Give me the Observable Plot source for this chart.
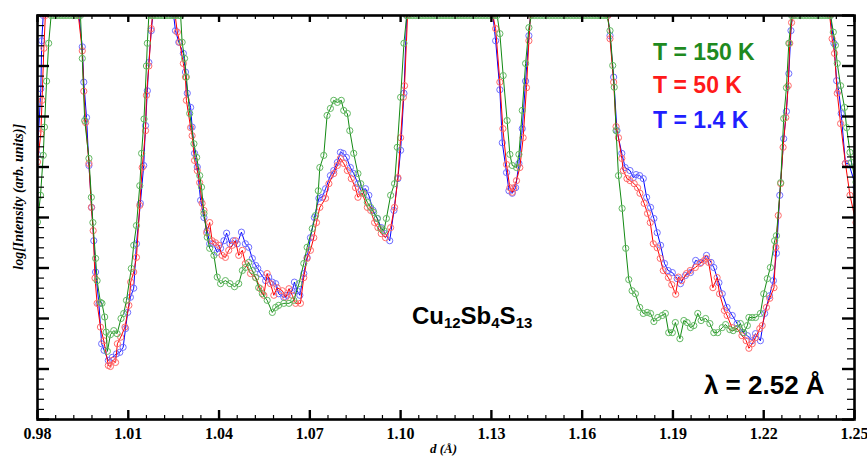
<!DOCTYPE html>
<html><head><meta charset="utf-8">
<script src="https://cdn.jsdelivr.net/npm/d3@7"></script>
<script src="https://cdn.jsdelivr.net/npm/@observablehq/plot@0.6"></script>
<style>html,body{margin:0;padding:0;background:#fff;} svg{display:block}</style>
</head><body><div id="chart"></div>
<script>
// ---- data (d in Å, log intensity in arbitrary units; 8 = clipped at top of frame) ----
const xTickValues = [0.98, 1.01, 1.04, 1.07, 1.10, 1.13, 1.16, 1.19, 1.22, 1.25];
const yTickValues = [0, 1, 2, 3, 4, 5, 6, 7, 8];
const seriesNames = ["T = 150 K", "T = 50 K", "T = 1.4 K"];
const formulaParts = [["Cu", false], ["12", true], ["Sb", false], ["4", true], ["S", false], ["13", true]];
const wavelengthLabel = "λ = 2.52 Å";
const xLabel = "d (Å)";
const yLabel = "log[Intensity (arb. units)]";

const green150K = [
[0.9800,3.91],[0.9810,4.44],[0.9819,5.23],[0.9823,5.79],[0.9830,6.70],[0.9837,7.45],
[0.9845,8],[0.9855,8],[0.9865,8],[0.9875,8],[0.9885,8],[0.9895,8],[0.9905,8],[0.9915,8],[0.9925,8],[0.9935,8],[0.9942,8],
[0.9948,7.15],[0.9956,5.92],[0.9970,5.17],[0.9978,4.40],[0.9983,3.90],[0.9992,3.19],[0.9997,2.75],[1.0008,2.32],[1.0013,2.30],
[1.0022,2.03],[1.0027,1.73],[1.0031,1.35],[1.0041,1.68],[1.0052,1.76],[1.0063,1.70],[1.0076,2.00],[1.0085,2.10],[1.0094,2.36],
[1.0110,2.99],[1.0118,3.45],[1.0127,3.84],[1.0138,4.63],[1.0144,5.27],[1.0152,5.95],[1.0160,7.00],[1.0163,7.45],
[1.0168,8],[1.0178,8],[1.0188,8],[1.0198,8],[1.0208,8],[1.0218,8],[1.0228,8],[1.0238,8],[1.0248,8],[1.0258,8],[1.0268,8],[1.0273,8],
[1.0278,7.47],[1.0286,7.15],[1.0292,6.78],[1.0303,6.06],[1.0317,5.46],[1.0326,5.19],[1.0336,4.83],[1.0342,4.60],[1.0350,4.08],
[1.0361,3.61],[1.0369,3.39],[1.0383,3.25],[1.0394,2.82],[1.0405,2.69],[1.0421,2.75],[1.0436,2.69],[1.0451,2.63],[1.0465,2.69],
[1.0477,2.95],[1.0487,3.01],[1.0498,3.11],[1.0510,2.95],[1.0521,2.81],[1.0531,2.61],[1.0543,2.49],[1.0559,2.36],[1.0576,2.12],
[1.0587,2.22],[1.0597,2.26],[1.0614,2.30],[1.0631,2.30],[1.0647,2.36],[1.0664,2.69],[1.0680,3.09],[1.0691,3.41],[1.0708,3.78],
[1.0719,4.04],[1.0728,4.53],[1.0733,4.99],[1.0746,5.23],[1.0757,6.02],[1.0768,6.16],[1.0779,6.32],[1.0791,6.28],[1.0804,6.32],
[1.0812,6.12],[1.0824,6.06],[1.0832,5.72],[1.0845,5.27],[1.0859,4.87],[1.0868,4.67],[1.0878,4.48],[1.0890,4.30],[1.0901,4.20],
[1.0911,4.10],[1.0923,3.98],[1.0934,3.78],[1.0945,3.74],[1.0953,3.98],[1.0967,4.44],[1.0980,4.67],[1.0989,5.39],[1.1000,6.38],[1.1011,7.45],
[1.1020,8],[1.1030,8],[1.1040,8],[1.1050,8],[1.1060,8],[1.1070,8],[1.1080,8],[1.1090,8],[1.1100,8],[1.1110,8],[1.1120,8],[1.1130,8],
[1.1140,8],[1.1150,8],[1.1160,8],[1.1170,8],[1.1180,8],[1.1190,8],[1.1200,8],[1.1210,8],[1.1220,8],[1.1230,8],[1.1240,8],[1.1250,8],
[1.1260,8],[1.1270,8],[1.1280,8],[1.1290,8],[1.1300,8],[1.1310,8],[1.1319,8],
[1.1328,7.64],[1.1339,6.81],[1.1352,5.92],[1.1361,5.25],[1.1369,5.03],[1.1383,4.99],[1.1391,5.25],[1.1402,6.12],[1.1413,7.05],[1.1424,7.76],
[1.1432,8],[1.1442,8],[1.1452,8],[1.1462,8],[1.1472,8],[1.1482,8],[1.1492,8],[1.1502,8],[1.1512,8],[1.1522,8],[1.1532,8],[1.1542,8],
[1.1552,8],[1.1562,8],[1.1572,8],[1.1582,8],[1.1592,8],[1.1602,8],[1.1612,8],[1.1622,8],[1.1632,8],[1.1642,8],[1.1652,8],[1.1662,8],
[1.1672,8],[1.1682,8],
[1.1692,7.70],[1.1701,7.01],[1.1706,6.58],[1.1712,5.72],[1.1720,4.83],[1.1732,4.18],[1.1744,3.39],[1.1754,2.77],[1.1765,2.55],
[1.1776,2.49],[1.1790,2.22],[1.1802,2.10],[1.1815,2.12],[1.1826,2.10],[1.1837,1.94],[1.1850,2.02],[1.1865,2.06],[1.1875,2.10],
[1.1886,1.72],[1.1898,1.72],[1.1908,1.92],[1.1923,1.60],[1.1936,1.96],[1.1947,1.92],[1.1958,1.82],[1.1969,1.86],[1.1982,2.10],
[1.1993,1.96],[1.2008,2.00],[1.2022,1.90],[1.2035,1.72],[1.2048,1.72],[1.2063,1.82],[1.2074,1.88],[1.2088,1.78],[1.2099,1.76],
[1.2112,1.80],[1.2123,1.90],[1.2134,1.72],[1.2146,1.86],[1.2151,2.02],[1.2162,2.02],[1.2173,2.02],[1.2189,2.10],[1.2200,2.49],
[1.2212,2.79],[1.2222,3.01],[1.2236,3.54],[1.2242,3.64],[1.2256,4.69],[1.2266,5.96],[1.2275,6.57],[1.2283,7.45],
[1.2292,8],[1.2302,8],[1.2312,8],[1.2322,8],[1.2332,8],[1.2342,8],[1.2352,8],[1.2362,8],[1.2372,8],[1.2382,8],[1.2392,8],[1.2402,8],[1.2412,8],[1.2421,8],
[1.2430,7.67],[1.2437,7.41],[1.2443,7.05],[1.2454,6.61],[1.2467,6.18],[1.2474,5.78],[1.2485,5.29],[1.2490,5.09],[1.2505,4.70]
];

const red50K = [
[0.9800,5.10],[0.9811,5.66],[0.9815,6.32],[0.9821,7.35],[0.9826,8],[0.9935,8],
[0.9948,7.30],[0.9953,6.50],[0.9959,5.88],[0.9970,5.07],[0.9978,4.20],[0.9984,3.74],[0.9990,2.80],[0.9997,2.30],[1.0008,1.83],
[1.0019,1.56],[1.0034,1.07],[1.0041,1.05],[1.0048,1.17],[1.0058,1.13],[1.0064,1.50],[1.0075,1.63],[1.0089,1.83],[1.0102,2.26],
[1.0108,2.72],[1.0118,2.92],[1.0127,3.21],[1.0138,4.24],[1.0146,4.99],[1.0157,5.72],[1.0160,6.42],[1.0168,7.00],[1.0176,7.74],
[1.0180,8],[1.0255,8],
[1.0262,7.67],[1.0270,7.47],[1.0282,7.05],[1.0289,6.78],[1.0292,6.32],[1.0306,5.78],[1.0311,5.62],[1.0319,5.13],[1.0328,4.93],
[1.0336,4.69],[1.0344,4.28],[1.0350,4.14],[1.0359,3.70],[1.0369,3.90],[1.0377,3.54],[1.0388,3.50],[1.0399,3.45],[1.0410,3.25],
[1.0421,3.21],[1.0432,3.35],[1.0444,3.45],[1.0454,3.54],[1.0465,3.25],[1.0477,3.35],[1.0487,3.09],[1.0504,2.89],[1.0521,2.81],
[1.0537,2.59],[1.0548,2.46],[1.0559,2.89],[1.0570,2.69],[1.0581,2.46],[1.0592,2.61],[1.0609,2.55],[1.0620,2.42],[1.0631,2.59],
[1.0642,2.46],[1.0653,2.30],[1.0669,2.30],[1.0680,2.81],[1.0691,3.19],[1.0702,3.35],[1.0713,3.60],[1.0722,3.90],[1.0733,4.20],
[1.0752,4.38],[1.0763,4.67],[1.0779,4.87],[1.0791,5.03],[1.0801,5.17],[1.0812,5.07],[1.0824,4.93],[1.0837,4.77],[1.0851,4.59],
[1.0859,4.40],[1.0873,4.48],[1.0890,4.20],[1.0901,4.14],[1.0914,3.90],[1.0925,3.80],[1.0936,3.68],[1.0950,3.60],[1.0967,3.80],
[1.0980,4.20],[1.0991,4.79],[1.1000,5.58],[1.1009,6.38],[1.1013,6.61],[1.1023,8],[1.1305,8],
[1.1314,7.74],[1.1328,6.68],[1.1338,5.76],[1.1350,5.05],[1.1361,4.59],[1.1369,4.50],[1.1374,4.59],[1.1383,4.73],[1.1394,4.99],
[1.1405,5.58],[1.1416,6.57],[1.1424,7.50],[1.1429,8],[1.1685,8],
[1.1692,7.54],[1.1704,6.68],[1.1712,5.80],[1.1720,5.58],[1.1731,5.17],[1.1736,4.93],[1.1748,4.77],[1.1758,4.73],[1.1772,4.67],
[1.1783,4.59],[1.1791,4.48],[1.1805,4.28],[1.1816,4.08],[1.1825,3.90],[1.1835,3.48],[1.1848,3.40],[1.1858,3.19],[1.1868,2.95],
[1.1885,2.81],[1.1896,2.67],[1.1909,2.48],[1.1918,2.82],[1.1929,2.75],[1.1945,2.89],[1.1957,2.95],[1.1974,3.01],[1.1990,3.09],
[1.2004,3.15],[1.2010,3.19],[1.2018,3.11],[1.2032,2.61],[1.2046,2.81],[1.2054,2.49],[1.2070,2.16],[1.2079,2.06],[1.2095,1.82],
[1.2112,1.80],[1.2128,1.66],[1.2142,1.56],[1.2151,1.41],[1.2162,1.50],[1.2173,1.62],[1.2187,1.80],[1.2195,1.86],[1.2209,2.22],
[1.2220,2.40],[1.2234,2.61],[1.2240,3.41],[1.2248,4.04],[1.2256,4.67],[1.2264,5.39],[1.2273,5.98],[1.2281,6.61],[1.2286,7.45],
[1.2292,7.86],[1.2298,8],[1.2418,8],
[1.2426,7.54],[1.2434,7.25],[1.2443,6.46],[1.2454,5.86],[1.2470,5.07],[1.2485,4.44],[1.2505,3.90]
];

const blue1p4K = [
[0.9800,5.25],[0.9811,6.55],[0.9814,7.50],[0.9819,8],[0.9937,8],
[0.9948,7.38],[0.9953,6.68],[0.9962,5.98],[0.9970,5.03],[0.9979,4.20],[0.9986,3.54],[0.9992,2.92],[1.0003,2.29],[1.0012,1.50],
[1.0020,1.37],[1.0034,1.17],[1.0047,1.23],[1.0061,1.30],[1.0072,1.33],[1.0083,1.43],[1.0091,1.80],[1.0098,2.12],[1.0107,2.42],
[1.0118,2.60],[1.0127,3.48],[1.0140,4.28],[1.0151,5.03],[1.0157,5.82],[1.0163,6.51],[1.0168,7.07],[1.0176,7.70],[1.0181,8],[1.0250,8],
[1.0256,7.70],[1.0267,7.47],[1.0282,7.25],[1.0289,6.88],[1.0295,6.46],[1.0306,6.18],[1.0311,5.79],[1.0319,5.27],[1.0328,5.00],
[1.0339,4.34],[1.0350,4.00],[1.0361,3.74],[1.0369,3.48],[1.0381,3.48],[1.0394,3.31],[1.0405,3.39],[1.0416,3.54],[1.0425,3.69],
[1.0436,3.48],[1.0447,3.54],[1.0460,3.48],[1.0474,3.71],[1.0487,3.48],[1.0498,3.41],[1.0510,3.19],[1.0521,3.05],[1.0528,2.99],
[1.0537,2.89],[1.0554,2.75],[1.0564,2.82],[1.0576,2.72],[1.0587,2.69],[1.0597,2.49],[1.0614,2.42],[1.0625,2.46],[1.0642,2.55],
[1.0649,2.72],[1.0658,2.55],[1.0667,2.46],[1.0680,2.89],[1.0691,3.21],[1.0702,3.60],[1.0715,4.00],[1.0730,4.38],[1.0741,4.40],
[1.0752,4.57],[1.0768,4.83],[1.0779,4.93],[1.0791,5.09],[1.0801,5.29],[1.0810,5.27],[1.0821,5.19],[1.0834,4.99],[1.0845,4.87],
[1.0859,4.67],[1.0870,4.53],[1.0884,4.57],[1.0895,4.44],[1.0909,4.14],[1.0923,3.98],[1.0936,3.80],[1.0950,3.68],[1.0964,3.54],
[1.0978,4.14],[1.0991,4.77],[1.1000,5.33],[1.1011,6.46],[1.1020,8],[1.1305,8],
[1.1314,7.50],[1.1328,6.53],[1.1336,5.48],[1.1350,4.89],[1.1358,4.53],[1.1369,4.48],[1.1380,4.59],[1.1391,5.07],[1.1402,5.76],
[1.1413,6.70],[1.1424,7.60],[1.1429,8],[1.1685,8],
[1.1692,7.60],[1.1704,6.78],[1.1715,5.72],[1.1731,5.27],[1.1742,4.99],[1.1758,4.93],[1.1769,4.79],[1.1778,4.85],[1.1790,4.83],
[1.1802,4.77],[1.1813,4.40],[1.1826,4.20],[1.1837,3.98],[1.1848,3.70],[1.1859,3.45],[1.1872,3.09],[1.1884,2.95],[1.1898,2.91],
[1.1914,2.79],[1.1925,2.69],[1.1941,2.85],[1.1958,2.91],[1.1975,3.15],[1.1993,3.11],[1.2011,3.25],[1.2026,3.11],[1.2035,3.01],
[1.2052,2.71],[1.2063,2.49],[1.2079,2.22],[1.2096,2.06],[1.2112,1.90],[1.2132,1.72],[1.2146,1.66],[1.2162,1.56],[1.2173,1.70],
[1.2189,1.56],[1.2203,2.10],[1.2219,2.45],[1.2232,2.75],[1.2242,3.29],[1.2253,4.44],[1.2266,5.56],[1.2275,6.10],[1.2283,6.85],
[1.2290,7.70],[1.2295,8],[1.2420,8],
[1.2432,7.45],[1.2441,6.71],[1.2448,6.51],[1.2456,6.06],[1.2470,5.07],[1.2481,5.07],[1.2505,4.60]
];

// ---- layout / style ----
const W = 867, H = 457, mL = 37, mR = 13, mT = 15, mB = 38;
const FW = W - mL - mR, FH = H - mT - mB;
const serif = "'Liberation Serif','Times New Roman',serif";
const sans = "'Liberation Sans',Arial,sans-serif";

const series = [
  {name: seriesNames[2], rows: blue1p4K, line: "#0000ff", dot: "#6f6fff", text: "#1f1fff"},
  {name: seriesNames[1], rows: red50K, line: "#ff0000", dot: "#ff6a6a", text: "#ff1a1a"},
  {name: seriesNames[0], rows: green150K, line: "#138a13", dot: "#62b862", text: "#1f8a1f"}
];

// minor ticks (subdivisions of the major tick intervals)
const xMinor = [];
for (let i = 0; i < xTickValues.length - 1; i++)
  for (let k = 1; k < 5; k++) xMinor.push(xTickValues[i] + (xTickValues[i + 1] - xTickValues[i]) * k / 5);
const yMinor = [];
for (let i = 0; i < yTickValues.length - 1; i++)
  for (let k = 1; k < 5; k++) yMinor.push(yTickValues[i] + (yTickValues[i + 1] - yTickValues[i]) * k / 5);

const dataMarks = series.flatMap(s => {
  const rows = s.rows.map(([d, v]) => ({d, v}));
  return [
    Plot.line(rows, {x: "d", y: "v", stroke: s.line, strokeWidth: 1, clip: true}),
    Plot.dot(rows, {x: "d", y: "v", r: 3.1, stroke: s.dot, strokeWidth: 1, fill: "none", clip: true})
  ];
});

const chart = Plot.plot({
  width: W, height: H,
  marginLeft: mL, marginRight: mR, marginTop: mT, marginBottom: mB,
  x: {domain: [0.98, 1.25]},
  y: {domain: [0, 8], axis: null},
  style: {background: "white", color: "black", overflow: "visible"},
  marks: [
    ...dataMarks,
    // inward major/minor ticks on all four sides
    Plot.tickX(xTickValues, {x: d => d, insetTop: FH - 9, stroke: "black", strokeWidth: 2.4}),
    Plot.tickX(xTickValues, {x: d => d, insetBottom: FH - 7, stroke: "black", strokeWidth: 2.4}),
    Plot.tickX(xMinor, {x: d => d, insetTop: FH - 4, stroke: "black", strokeWidth: 1.2}),
    Plot.tickX(xMinor, {x: d => d, insetBottom: FH - 4, stroke: "black", strokeWidth: 1.2}),
    Plot.tickY(yTickValues, {y: d => d, insetRight: FW - 12, stroke: "black", strokeWidth: 2.4}),
    Plot.tickY(yTickValues, {y: d => d, insetLeft: FW - 12, stroke: "black", strokeWidth: 2.4}),
    Plot.tickY(yMinor, {y: d => d, insetRight: FW - 7, stroke: "black", strokeWidth: 1.2}),
    Plot.tickY(yMinor, {y: d => d, insetLeft: FW - 7, stroke: "black", strokeWidth: 1.2}),
    Plot.frame({stroke: "black", strokeWidth: 2.6}),
    Plot.axisX(xTickValues, {
      tickSize: 0, tickPadding: 8, label: null,
      tickFormat: d => d.toFixed(2),
      fontSize: 16, fontWeight: "bold", fontFamily: serif, fill: "black"
    })
  ]
});

document.getElementById("chart").appendChild(chart);

// ---- annotations (positioned through the plot's scales) ----
const sx = chart.scale("x"), sy = chart.scale("y");
const svg = d3.select(chart);
const ann = svg.append("g").attr("text-anchor", "start");

// legend text
const legendY = [7.11, 6.455, 5.76];
[series[2], series[1], series[0]].forEach((s, i) => {
  ann.append("text")
    .attr("x", sx.apply(1.1836)).attr("y", sy.apply(legendY[i]))
    .attr("text-anchor", "start")
    .attr("font-family", sans).attr("font-weight", "bold").attr("font-size", 23)
    .attr("fill", s.text).text(s.name);
});

// chemical formula with subscripts
const ft = ann.append("text")
  .attr("x", sx.apply(1.1039)).attr("y", sy.apply(1.88))
  .attr("text-anchor", "start")
  .attr("font-family", sans).attr("font-weight", "bold").attr("fill", "black");
let sub = false;
formulaParts.forEach(([t, isSub]) => {
  const ts = ft.append("tspan").text(t).attr("font-size", isSub ? 15 : 24);
  if (isSub && !sub) ts.attr("dy", 4);
  if (!isSub && sub) ts.attr("dy", -4);
  sub = isSub;
});

// wavelength
ann.append("text")
  .attr("x", sx.apply(1.2004)).attr("y", sy.apply(0.495))
  .attr("text-anchor", "start")
  .attr("font-family", sans).attr("font-weight", "bold").attr("font-size", 26)
  .attr("fill", "black").text(wavelengthLabel);

// axis titles
ann.append("text")
  .attr("x", (mL + W - mR) / 2 - 2).attr("y", H - 4)
  .attr("text-anchor", "middle")
  .attr("font-family", serif).attr("font-weight", "bold").attr("font-style", "italic").attr("font-size", 13)
  .attr("fill", "black").text(xLabel);
ann.append("text")
  .attr("transform", `translate(18,${sy.apply(4.4)}) rotate(-90)`)
  .attr("text-anchor", "middle").attr("dy", "0.35em")
  .attr("font-family", serif).attr("font-weight", "bold").attr("font-style", "italic").attr("font-size", 14)
  .attr("fill", "black").text(yLabel);
</script>
</body></html>
